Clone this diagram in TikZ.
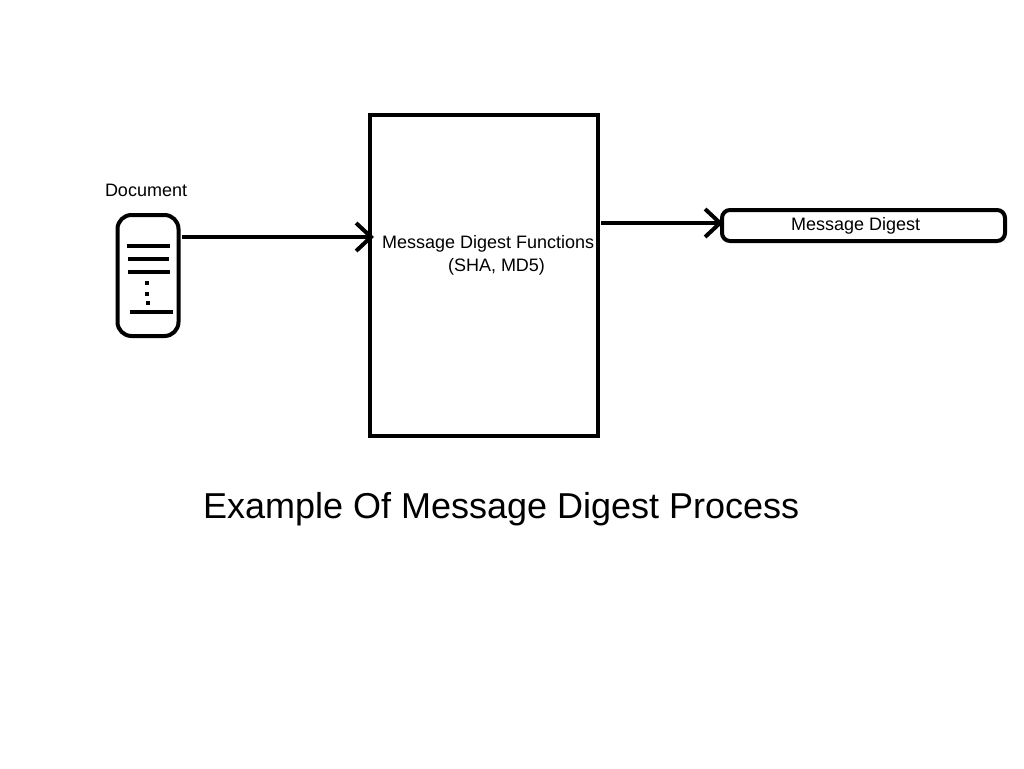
\documentclass[tikz,border=0pt]{standalone}
\usepackage{fontspec}
\setmainfont{Liberation Sans}
\usetikzlibrary{arrows.meta}
\tikzset{
  x=1pt,y=-1pt,
  shapebox/.style={draw=black,line width=4pt,fill=white,inner sep=0pt,outer sep=0pt,minimum width=#1},
  label18/.style={anchor=base west,inner sep=0pt,outer sep=0pt,font=\fontsize{18}{20}\selectfont},
  title36/.style={anchor=base west,inner sep=0pt,outer sep=0pt,font=\fontsize{36}{40}\selectfont},
  flow/.style={line width=4pt,-{Straight Barb[length=15pt,width=28pt,line width=4pt]}},
  docline/.style={line width=4pt},
  docdot/.style={fill=black,inner sep=0pt,outer sep=0pt,minimum width=4pt,minimum height=4pt},
}
\begin{document}
\begin{tikzpicture}
\useasboundingbox (0,0) rectangle (1024,768);
\node[shapebox=228pt,minimum height=321pt,rectangle] (main) at (484,275.5) {};
\node[shapebox=61pt,minimum height=121pt,rounded corners=14pt] (doc) at (148,275.5) {};
\node[shapebox=283pt,minimum height=31pt,rounded corners=8pt] (digest) at (863.5,225.5) {};
\draw[docline] (127,246) -- (170,246);
\draw[docline] (128,259) -- (169,259);
\draw[docline] (128,271.5) -- (170,271.5);
\draw[docline] (130,312) -- (173,312);
\node[docdot] (d1) at (147,283) {};
\node[docdot] (d2) at (147,294) {};
\node[docdot] (d3) at (148,303) {};
\node[label18] (doclabel) at (105,196) {Document};
\node[label18] (fn1) at (382,248) {Message Digest Functions};
\node[label18] (fn2) at (448,271) {(SHA, MD5)};
\node[label18] (dglabel) at (791,230) {Message Digest};
\node[title36] (title) at (203,518) {Example Of Message Digest Process};
\draw[flow] ([shift={(3pt,38.5pt)}]doc.east) -- ([shift={(4pt,38.5pt)}]main.west |- doc.east);
\draw[flow] ([shift={(3pt,52.5pt)}]main.east) -- ([shift={(1pt,2.5pt)}]digest.west);
\end{tikzpicture}
\end{document}
